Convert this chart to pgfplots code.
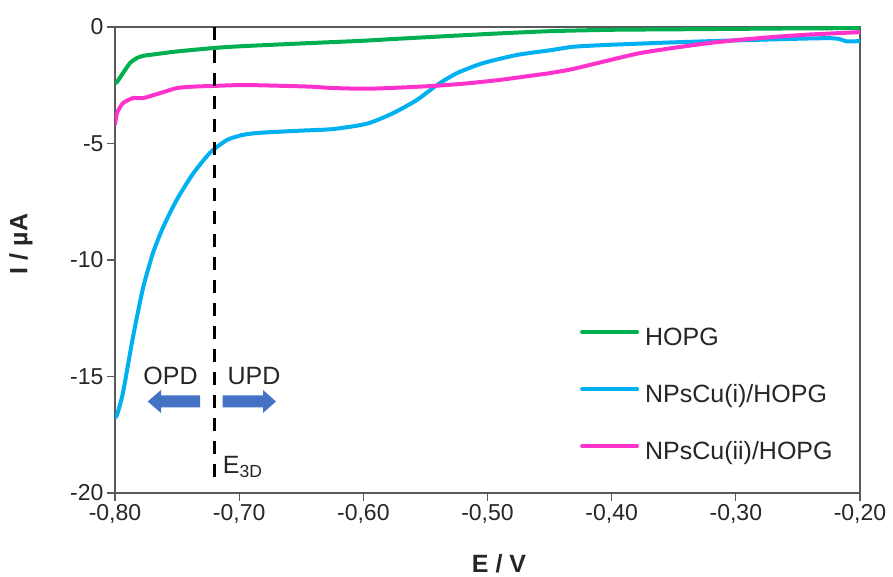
\documentclass[border=0pt]{standalone}
\usepackage{pgfplots}
\pgfplotsset{compat=1.18}
\usepackage{fontspec}
\setmainfont{Liberation Sans}
\definecolor{hopg}{HTML}{00B050}
\definecolor{npi}{HTML}{00B0F0}
\definecolor{npii}{HTML}{FF33CC}
\definecolor{arrowblue}{HTML}{4472C4}
\definecolor{axisgrey}{HTML}{595959}
\definecolor{txt}{HTML}{262626}
\begin{document}
\begin{tikzpicture}
\begin{axis}[
  at={(0,0)}, anchor=south west,
  scale only axis, width=745pt, height=466pt,
  xmin=-0.8, xmax=-0.2, ymin=-20, ymax=0,
  axis line style={draw=axisgrey, line width=1.3pt},
  xtick={-0.8,-0.7,-0.6,-0.5,-0.4,-0.3,-0.2},
  xticklabels={{-0,80},{-0,70},{-0,60},{-0,50},{-0,40},{-0,30},{-0,20}},
  ytick={-20,-15,-10,-5,0},
  yticklabels={{-20},{-15},{-10},{-5},{0}},
  tick align=outside, xtick pos=bottom, ytick pos=left,
  major tick length=8pt,
  every tick/.style={draw=axisgrey, line width=1.3pt},
  ticklabel style={font=\fontsize{23}{27}\selectfont, text=txt},
  legend cell align=left,
  legend style={at={(0.624,0.355)}, anchor=north west, draw=none, fill=none,
    inner sep=0pt, row sep=34pt, font=\fontsize{25}{30}\selectfont, text=txt,
    nodes={inner sep=0pt, text height=18pt, text depth=5pt},
    /tikz/every odd column/.style={column sep=6pt}},
  legend image code/.code={\draw[#1, line width=4pt, line cap=round] (0pt,7pt) -- (55pt,7pt);},
]
\addplot[hopg, line width=4pt, smooth, tension=0.4] coordinates {
(-0.800,-2.40) (-0.7984,-2.36) (-0.7936,-1.98) (-0.7880,-1.55) (-0.7823,-1.33)
(-0.7774,-1.24) (-0.7694,-1.18) (-0.7501,-1.05) (-0.720,-0.90) (-0.700,-0.83)
(-0.643,-0.69) (-0.600,-0.59) (-0.5705,-0.50) (-0.500,-0.30) (-0.450,-0.18)
(-0.400,-0.12) (-0.350,-0.10) (-0.300,-0.08) (-0.250,-0.06) (-0.200,-0.05)
};
\addlegendentry{HOPG}
\addplot[npi, line width=4pt, smooth, tension=0.4] coordinates {
(-0.800,-16.75) (-0.7984,-16.65) (-0.7936,-15.7) (-0.7855,-13.3) (-0.7774,-11.2)
(-0.7694,-9.7) (-0.7613,-8.6) (-0.7501,-7.4) (-0.7372,-6.3) (-0.7235,-5.4)
(-0.7098,-4.85) (-0.6969,-4.63) (-0.6832,-4.54) (-0.651,-4.45) (-0.6244,-4.38)
(-0.5971,-4.15) (-0.5761,-3.7) (-0.5568,-3.13) (-0.5407,-2.49) (-0.5246,-1.98)
(-0.5036,-1.55) (-0.4763,-1.2) (-0.4497,-1.0) (-0.4311,-0.85) (-0.4038,-0.77)
(-0.3506,-0.66) (-0.2967,-0.57) (-0.2242,-0.48) (-0.2105,-0.62) (-0.200,-0.60)
};
\addlegendentry{NPsCu(i)/HOPG}
\addplot[npii, line width=4pt, smooth, tension=0.4] coordinates {
(-0.800,-4.20) (-0.7984,-3.70) (-0.7936,-3.27) (-0.7855,-3.05) (-0.7774,-3.05)
(-0.7638,-2.84) (-0.7501,-2.62) (-0.7372,-2.56) (-0.7211,-2.53) (-0.6969,-2.49)
(-0.6695,-2.52) (-0.643,-2.56) (-0.6244,-2.62) (-0.5971,-2.65) (-0.5705,-2.60)
(-0.5407,-2.52) (-0.5165,-2.42) (-0.4899,-2.27) (-0.4634,-2.08) (-0.4497,-1.98)
(-0.4311,-1.80) (-0.4038,-1.45) (-0.3772,-1.12) (-0.3506,-0.90) (-0.3232,-0.70)
(-0.2967,-0.55) (-0.2701,-0.43) (-0.2427,-0.33) (-0.2161,-0.26) (-0.200,-0.22)
};
\addlegendentry{NPsCu(ii)/HOPG}
\draw[black, line width=3pt, dash pattern=on 13pt off 10pt] (axis cs:-0.72,0) -- (axis cs:-0.72,-19.65);
\end{axis}
% arrows
\fill[arrowblue] (85pt,97.5pt) -- (46pt,97.5pt) -- (46pt,103pt) -- (32.7pt,91.5pt) -- (46pt,80pt) -- (46pt,85.5pt) -- (85pt,85.5pt) -- cycle;
\fill[arrowblue] (107.7pt,97.5pt) -- (148pt,97.5pt) -- (148pt,103pt) -- (161pt,91.5pt) -- (148pt,80pt) -- (148pt,85.5pt) -- (107.7pt,85.5pt) -- cycle;
\node[font=\fontsize{25}{30}\selectfont, text=txt, inner sep=0pt] at (55.5pt,117pt) {OPD};
\node[font=\fontsize{25}{30}\selectfont, text=txt, inner sep=0pt] at (139pt,117pt) {UPD};
\node[font=\fontsize{25}{30}\selectfont, text=txt, inner sep=0pt, anchor=base west] at (107.7pt,19pt) {E\textsubscript{3D}};
\node[font=\bfseries\fontsize{25}{30}\selectfont, text=txt, inner sep=0pt, rotate=90] at (-94pt,249pt) {I / µA};
\node[font=\bfseries\fontsize{25}{30}\selectfont, text=txt, inner sep=0pt, anchor=base] at (384pt,-80pt) {E / V};
\pgfresetboundingbox
\path[use as bounding box] (-115pt,-84pt) rectangle (778pt,493pt);
\end{tikzpicture}
\end{document}
